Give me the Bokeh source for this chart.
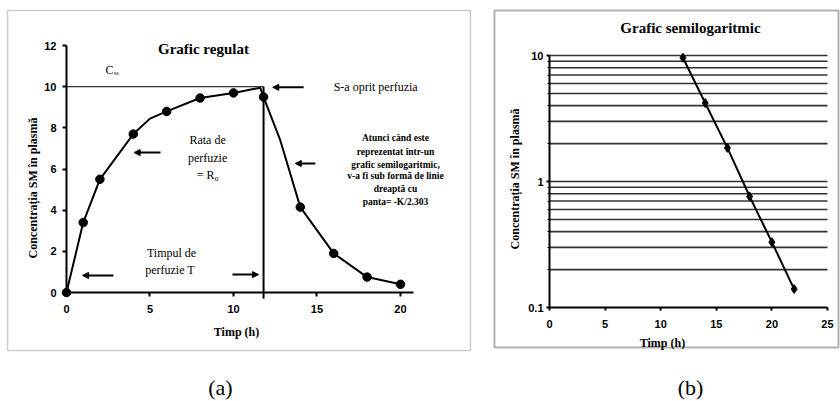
from bokeh.plotting import figure
from bokeh.layouts import row
from bokeh.models import (Label, Arrow, NormalHead, BoxAnnotation, FixedTicker, Range1d,
                          BasicTickFormatter)
from bokeh.embed import file_html
from bokeh.resources import INLINE

# ---- (a) linear plot: constant-rate infusion then elimination ----
infusion_t = [0, 1, 2, 4, 6, 8, 10, 11.8, 14, 16, 18, 20]
infusion_c = [0, 3.4, 5.5, 7.7, 8.8, 9.45, 9.7, 9.5, 4.15, 1.9, 0.75, 0.4]
curve_t = [0, 1, 2, 4, 5, 6, 8, 10, 11.6, 11.8, 12.8, 14, 16, 18, 20]
curve_c = [0, 3.4, 5.5, 7.7, 8.45, 8.8, 9.45, 9.7, 9.95, 9.5, 7.4, 4.15, 1.9, 0.75, 0.4]
t_stop = 11.8
c_ss = 10
lin_x_ticks = [0, 5, 10, 15, 20]
lin_y_ticks = [0, 2, 4, 6, 8, 10, 12]

# ---- (b) semi-log plot of the elimination phase ----
semilog_t = [12, 14, 16, 18, 20, 22]
semilog_c = [9.6, 4.2, 1.85, 0.76, 0.33, 0.14]
log_x_ticks = [0, 5, 10, 15, 20, 25]
log_major = [0.1, 1, 10]
log_minor = [0.2, 0.3, 0.4, 0.5, 0.6, 0.7, 0.8, 0.9, 2, 3, 4, 5, 6, 7, 8, 9]
log_lines = [0.2, 0.3, 0.4, 0.5, 0.6, 0.7, 0.8, 0.9, 1, 2, 3, 4, 5, 6, 7, 8, 9, 10]

SERIF = "Liberation Serif"
SANS = "Liberation Sans"


def style_axis(ax, tick_out, standoff, loc, bounds):
    ax.fixed_location = loc
    ax.bounds = bounds
    ax.axis_line_color = "black"
    ax.axis_line_width = 2
    ax.major_tick_line_color = "black"
    ax.major_tick_line_width = 2
    ax.major_tick_out = tick_out
    ax.major_tick_in = 0
    ax.minor_tick_line_color = None
    ax.major_label_text_font = SANS
    ax.major_label_text_font_style = "bold"
    ax.major_label_text_font_size = "11px"
    ax.major_label_text_color = "black"
    ax.major_label_standoff = standoff


def arrow(p, x0, y0, x1, y1):
    p.add_layout(Arrow(end=NormalHead(size=6, fill_color="black", line_color="black"),
                       x_start=x0, y_start=y0, x_end=x1, y_end=y1,
                       line_color="black", line_width=2))


def text(p, x, y, s, size="12px", style="normal", align="center", font=SERIF, angle=0):
    p.add_layout(Label(x=x, y=y, text=s, text_font=font, text_font_size=size,
                       text_font_style=style, text_align=align, text_baseline="middle",
                       text_color="black", angle=angle))


def base_figure(w, xr, yr, **kw):
    p = figure(width=w, height=401, output_backend="svg", toolbar_location=None,
               x_range=xr, y_range=yr, min_border=0, **kw)
    p.outline_line_color = None
    p.grid.grid_line_color = None
    p.background_fill_color = "white"
    p.border_fill_color = "white"
    return p


# ---------------- panel (a) ----------------
pa = base_figure(490, Range1d(-3.952, 25.39), Range1d(-5.296, 14.19))
pa.xaxis.ticker = FixedTicker(ticks=lin_x_ticks)
pa.yaxis.ticker = FixedTicker(ticks=lin_y_ticks)
style_axis(pa.xaxis[0], 4, 8, 0, (0, 20.78))
style_axis(pa.yaxis[0], 4, 6, 0, (0, 12))

pa.add_layout(BoxAnnotation(left=-3.53, right=24.19, bottom=-2.82, top=13.70,
                            fill_color=None, line_color="#555555", line_width=1.5))
pa.line([0, t_stop], [c_ss, c_ss], line_color="black", line_width=1)
pa.line([t_stop, t_stop], [c_ss, -0.3], line_color="black", line_width=2)
pa.line(curve_t, curve_c, line_color="black", line_width=2)
pa.scatter(infusion_t, infusion_c, marker="circle", size=8.5, fill_color="black", line_color="black")

text(pa, 8.2, 11.83, "Grafic regulat", size="15px", style="bold")
text(pa, 2.33, 10.8, "C", size="12px", align="left")
text(pa, 2.85, 10.66, "ss", size="6px", align="left")
text(pa, 16.0, 10.0, "S-a oprit perfuzia", size="12px", align="left")
arrow(pa, 14.2, 9.97, 12.35, 9.97)
text(pa, 8.45, 7.43, "Rata de")
text(pa, 8.45, 6.56, "perfuzie")
text(pa, 8.45, 5.69, "= R\u2080")
arrow(pa, 5.63, 6.8, 4.05, 6.8)
arrow(pa, 14.9, 6.27, 13.7, 6.27)
note_y = [7.53, 6.85, 6.22, 5.64, 5.05, 4.42]
note = ["Atunci când este", "reprezentat într-un", "grafic semilogaritmic,",
        "v-a fi sub formă de linie", "dreaptă cu", "panta= -K/2.303"]
for yy, s in zip(note_y, note):
    text(pa, 19.7, yy, s, size="9.5px", style="bold")
text(pa, 6.29, 1.94, "Timpul de")
text(pa, 6.29, 1.07, "perfuzie  T")
arrow(pa, 2.81, 0.83, 0.96, 0.83)
arrow(pa, 9.94, 0.87, 11.5, 0.87)
text(pa, 10.18, -1.94, "Timp (h)", size="12px", style="bold")
text(pa, -1.98, 5.15, "Concentrația  SM în plasmă", size="12px", style="bold", angle=1.5708)
text(pa, 9.22, -4.62, "(a)", size="22px")

# ---------------- panel (b) ----------------
pb = base_figure(350, Range1d(-5.306, 26.17), Range1d(0.01795, 27.33), y_axis_type="log")
pb.xaxis.ticker = FixedTicker(ticks=log_x_ticks)
pb.yaxis.ticker = FixedTicker(ticks=log_major, minor_ticks=log_minor)
pb.yaxis.formatter = BasicTickFormatter()
style_axis(pb.xaxis[0], 3, 9, 0.1, (0, 25))
style_axis(pb.yaxis[0], 3, 3, 0, (0.1, 10))
pb.yaxis.minor_tick_line_color = "black"
pb.yaxis.minor_tick_out = 2
pb.yaxis.minor_tick_in = 0

# horizontal rulings of the semi-log paper
pb.segment(x0=[0] * len(log_lines), x1=[25] * len(log_lines), y0=log_lines, y1=log_lines,
           line_color="#333333", line_width=1.6)
pb.line(semilog_t, semilog_c, line_color="black", line_width=2)
pb.scatter(semilog_t, semilog_c, marker="diamond", size=9, fill_color="black", line_color="black")

text(pb, 12.68, 16.4, "Grafic semilogaritmic", size="15px", style="bold")
text(pb, 10.16, 0.0525, "Timp (h)", size="12px", style="bold")
text(pb, -3.06, 1.077, "Concentrația  SM în plasmă", size="12px", style="bold", angle=1.5708)
text(pb, 12.68, 0.0232, "(b)", size="22px")
pb.add_layout(BoxAnnotation(left=-4.95, right=25.99, bottom=0.0482, top=22.75,
                            fill_color=None, line_color="black", line_width=2))

layout = row(pa, pb)
open("out.html", "w").write(file_html(layout, INLINE))
